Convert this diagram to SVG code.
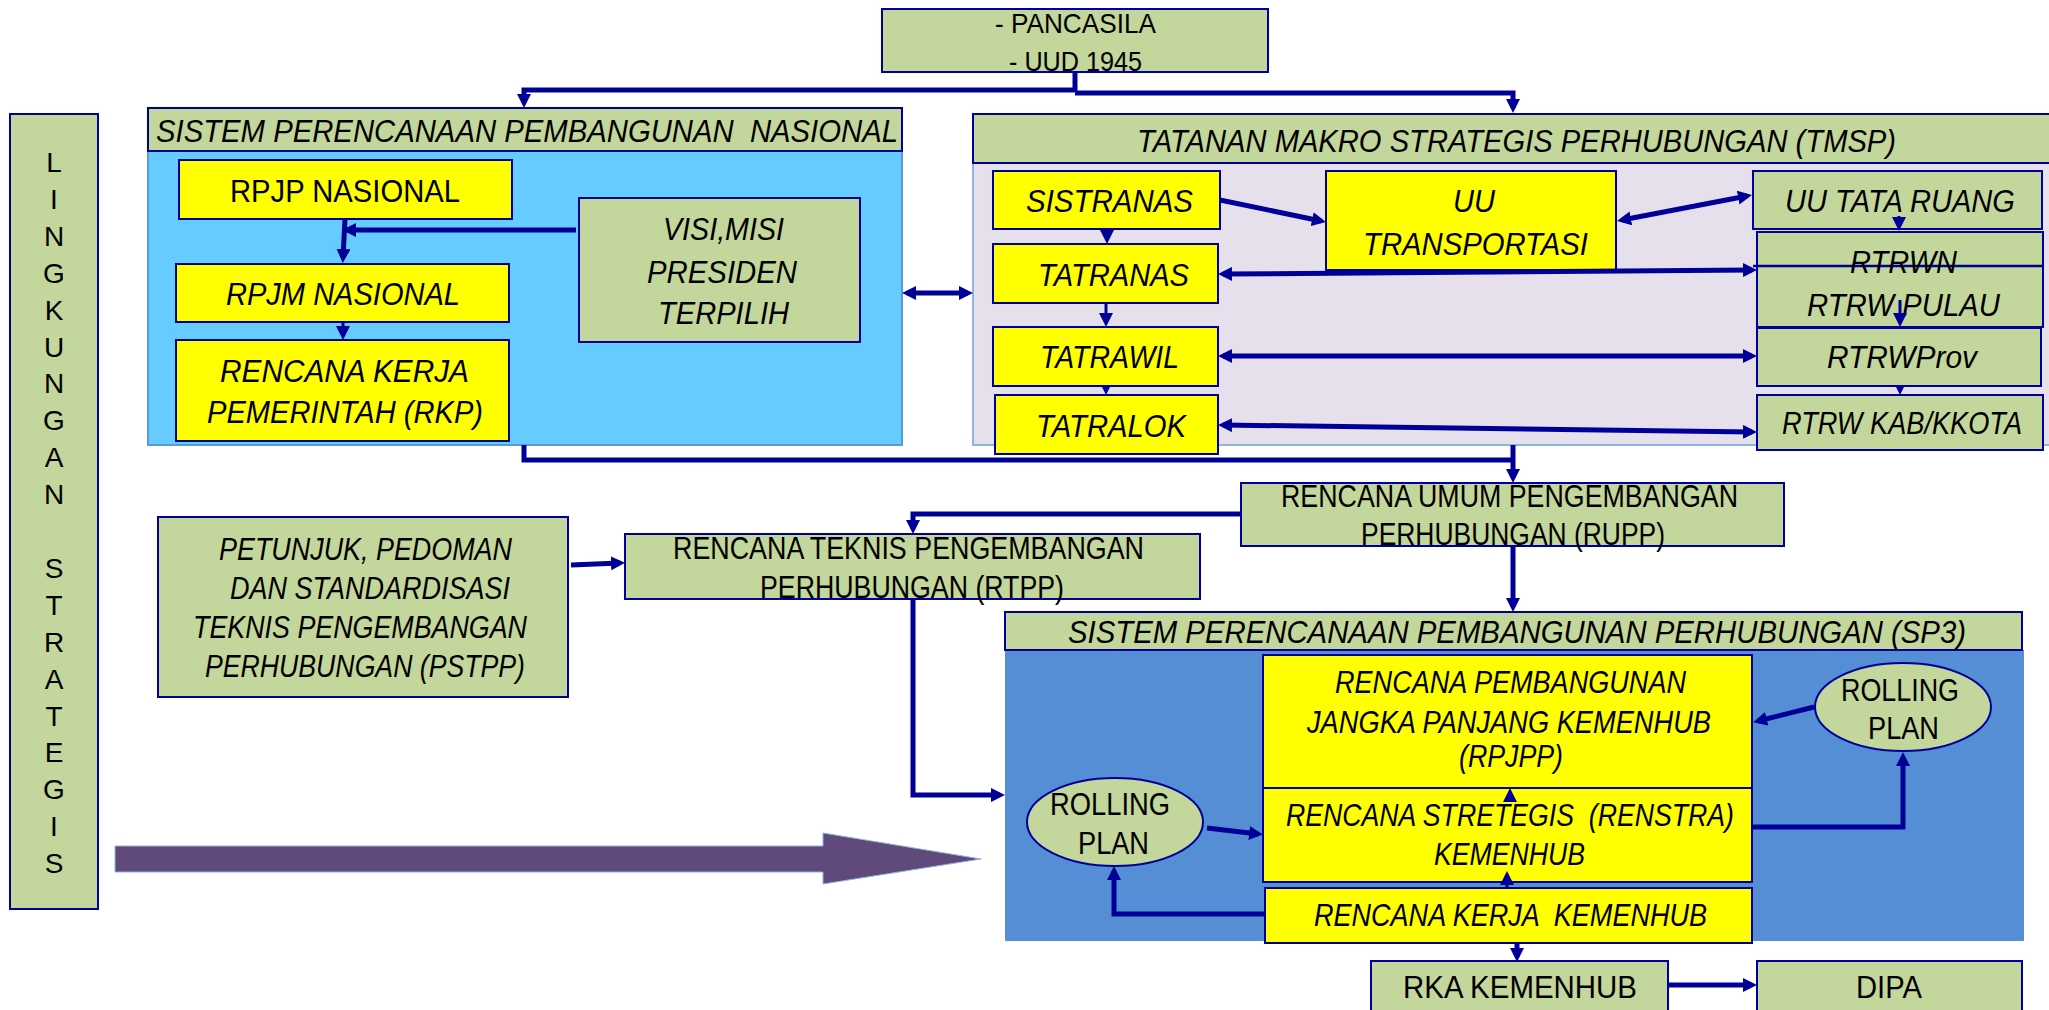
<svg xmlns="http://www.w3.org/2000/svg" width="2049" height="1010" viewBox="0 0 2049 1010">
<style>
.ol{fill:#C3D69B;stroke:#000099;stroke-width:2}
.ye{fill:#FFFF00;stroke:#000099;stroke-width:2}
.t{font-family:"Liberation Sans",Arial,sans-serif;font-size:32px;fill:#000;text-anchor:middle}
.n{font-size:32px}
.i{font-style:italic}
.c{stroke:#000099;stroke-width:5;fill:none}
.cs{stroke-width:3}
.lt{font-family:"Liberation Sans",Arial,sans-serif;font-size:28px;fill:#000;text-anchor:middle}
</style>
<defs>
<marker id="a" markerUnits="userSpaceOnUse" markerWidth="14" markerHeight="14" viewBox="0 0 14 14" refX="9" refY="7" orient="auto-start-reverse"><path d="M0,0 L14,7 L0,14 z" fill="#000099"/></marker>
<marker id="s" markerUnits="userSpaceOnUse" markerWidth="10" markerHeight="10" viewBox="0 0 10 10" refX="6" refY="5" orient="auto-start-reverse"><path d="M0,0 L10,5 L0,10 z" fill="#000099"/></marker>
</defs>
<rect width="2049" height="1010" fill="#fff"/>

<g id="lingkungan">
<rect class="ol" x="10" y="114" width="88" height="795"/>
<text class="lt"><tspan x="54" y="172">L</tspan><tspan x="54" y="209">I</tspan><tspan x="54" y="246">N</tspan><tspan x="54" y="283">G</tspan><tspan x="54" y="320">K</tspan><tspan x="54" y="357">U</tspan><tspan x="54" y="393">N</tspan><tspan x="54" y="430">G</tspan><tspan x="54" y="467">A</tspan><tspan x="54" y="504">N</tspan><tspan x="54" y="578">S</tspan><tspan x="54" y="615">T</tspan><tspan x="54" y="652">R</tspan><tspan x="54" y="689">A</tspan><tspan x="54" y="726">T</tspan><tspan x="54" y="762">E</tspan><tspan x="54" y="799">G</tspan><tspan x="54" y="836">I</tspan><tspan x="54" y="873">S</tspan></text>
</g>

<g id="pancasila">
<rect class="ol" x="882" y="9" width="386" height="63"/>
<text class="t n" style="font-size:28px" x="1075.5" y="33" textLength="161" lengthAdjust="spacingAndGlyphs">- PANCASILA</text>
<text class="t n" style="font-size:28px" x="1075.5" y="71" textLength="133" lengthAdjust="spacingAndGlyphs">- UUD 1945</text>
</g>

<g id="sppn">
<rect x="148" y="151" width="754" height="294" fill="#66CCFF" stroke="#5B9BD5" stroke-width="2"/>
<rect class="ol" x="148" y="108" width="754" height="43"/>
<text class="t i" x="527" y="142" textLength="742" lengthAdjust="spacingAndGlyphs" xml:space="preserve">SISTEM PERENCANAAN PEMBANGUNAN  NASIONAL</text>
</g>
<g id="rpjp">
<rect class="ye" x="179" y="160" width="333" height="59"/>
<text class="t n" x="345" y="202" textLength="230" lengthAdjust="spacingAndGlyphs">RPJP NASIONAL</text>
</g>
<g id="rpjm">
<rect class="ye" x="176" y="264" width="333" height="58"/>
<text class="t i" x="343" y="305" textLength="234" lengthAdjust="spacingAndGlyphs">RPJM NASIONAL</text>
</g>
<g id="rkp">
<rect class="ye" x="176" y="340" width="333" height="101"/>
<text class="t i" x="344.5" y="382" textLength="249" lengthAdjust="spacingAndGlyphs">RENCANA KERJA</text>
<text class="t i" x="345" y="423" textLength="276" lengthAdjust="spacingAndGlyphs">PEMERINTAH (RKP)</text>
</g>
<g id="visi">
<rect class="ol" x="579" y="198" width="281" height="144"/>
<text class="t i" x="723.5" y="240" textLength="121" lengthAdjust="spacingAndGlyphs">VISI,MISI</text>
<text class="t i" x="722" y="283" textLength="150" lengthAdjust="spacingAndGlyphs">PRESIDEN</text>
<text class="t i" x="723.5" y="324" textLength="131" lengthAdjust="spacingAndGlyphs">TERPILIH</text>
</g>

<g id="tmsp">
<rect x="973" y="163" width="1080" height="282" fill="#E6E0EC" stroke="#8EB4E3" stroke-width="2"/>
<rect class="ol" x="973" y="114" width="1080" height="49"/>
<text class="t i" x="1516.5" y="152" textLength="759" lengthAdjust="spacingAndGlyphs">TATANAN MAKRO STRATEGIS PERHUBUNGAN (TMSP)</text>
</g>
<g id="sistranas">
<rect class="ye" x="993" y="171" width="227" height="58"/>
<text class="t i" x="1109.5" y="212" textLength="167" lengthAdjust="spacingAndGlyphs">SISTRANAS</text>
</g>
<g id="tatranas">
<rect class="ye" x="993" y="244" width="225" height="59"/>
<text class="t i" x="1113.5" y="286" textLength="151" lengthAdjust="spacingAndGlyphs">TATRANAS</text>
</g>
<g id="tatrawil">
<rect class="ye" x="993" y="327" width="225" height="59"/>
<text class="t i" x="1109.5" y="368" textLength="139" lengthAdjust="spacingAndGlyphs">TATRAWIL</text>
</g>
<g id="tatralok">
<rect class="ye" x="995" y="395" width="223" height="59"/>
<text class="t i" x="1111" y="437" textLength="150" lengthAdjust="spacingAndGlyphs">TATRALOK</text>
</g>
<g id="uu-transportasi">
<rect class="ye" x="1326" y="171" width="290" height="99"/>
<text class="t i" x="1474" y="212" textLength="42" lengthAdjust="spacingAndGlyphs">UU</text>
<text class="t i" x="1475.5" y="255" textLength="225" lengthAdjust="spacingAndGlyphs">TRANSPORTASI</text>
</g>
<g id="uu-tata-ruang">
<rect class="ol" x="1753" y="171" width="289" height="58"/>
<text class="t i" x="1900" y="212" textLength="230" lengthAdjust="spacingAndGlyphs">UU TATA RUANG</text>
</g>
<g id="rtrwn">
<rect class="ol" x="1757" y="232" width="286" height="95"/>
<line x1="1753" y1="266" x2="2043" y2="266" stroke="#000099" stroke-width="2.5"/>
<text class="t i" x="1903.5" y="273" textLength="107" lengthAdjust="spacingAndGlyphs">RTRWN</text>
<text class="t i" x="1903.5" y="316" textLength="193" lengthAdjust="spacingAndGlyphs">RTRW PULAU</text>
</g>
<g id="rtrwprov">
<rect class="ol" x="1757" y="328" width="284" height="58"/>
<text class="t i" x="1902" y="368" textLength="150" lengthAdjust="spacingAndGlyphs">RTRWProv</text>
</g>
<g id="rtrw-kab">
<rect class="ol" x="1757" y="395" width="286" height="55"/>
<text class="t i" x="1902" y="434" textLength="240" lengthAdjust="spacingAndGlyphs">RTRW KAB/KKOTA</text>
</g>

<g id="rupp">
<rect class="ol" x="1241" y="483" width="543" height="63"/>
<text class="t n" x="1509.5" y="507" textLength="457" lengthAdjust="spacingAndGlyphs">RENCANA UMUM PENGEMBANGAN</text>
<text class="t n" x="1513" y="545" textLength="304" lengthAdjust="spacingAndGlyphs">PERHUBUNGAN (RUPP)</text>
</g>
<g id="rtpp">
<rect class="ol" x="625" y="534" width="575" height="65"/>
<text class="t n" x="908.5" y="559" textLength="471" lengthAdjust="spacingAndGlyphs">RENCANA TEKNIS PENGEMBANGAN</text>
<text class="t n" x="912" y="598" textLength="304" lengthAdjust="spacingAndGlyphs">PERHUBUNGAN (RTPP)</text>
</g>
<g id="pstpp">
<rect class="ol" x="158" y="517" width="410" height="180"/>
<text class="t i" x="365.5" y="560" textLength="293" lengthAdjust="spacingAndGlyphs">PETUNJUK, PEDOMAN</text>
<text class="t i" x="370" y="599" textLength="280" lengthAdjust="spacingAndGlyphs">DAN STANDARDISASI</text>
<text class="t i" x="360" y="638" textLength="334" lengthAdjust="spacingAndGlyphs">TEKNIS PENGEMBANGAN</text>
<text class="t i" x="365" y="677" textLength="320" lengthAdjust="spacingAndGlyphs">PERHUBUNGAN (PSTPP)</text>
</g>

<g id="big-arrow">
<polygon points="115,846 823,846 823,833 981,859 823,884 823,872 115,872" fill="#604A7B" stroke="#8EB4E3" stroke-width="1"/>
</g>

<g id="sp3">
<rect x="1005" y="650" width="1019" height="291" fill="#558ED5"/>
<rect class="ol" x="1005" y="612" width="1017" height="38"/>
<text class="t i" x="1517" y="643" textLength="898" lengthAdjust="spacingAndGlyphs">SISTEM PERENCANAAN PEMBANGUNAN PERHUBUNGAN (SP3)</text>
</g>
<g id="rpjpp">
<rect class="ye" x="1263" y="655" width="489" height="133"/>
<text class="t i" x="1510.5" y="693" textLength="351" lengthAdjust="spacingAndGlyphs">RENCANA PEMBANGUNAN</text>
<text class="t i" x="1509" y="733" textLength="404" lengthAdjust="spacingAndGlyphs">JANGKA PANJANG KEMENHUB</text>
<text class="t i" x="1511" y="767" textLength="104" lengthAdjust="spacingAndGlyphs">(RPJPP)</text>
</g>
<g id="renstra">
<rect class="ye" x="1263" y="788" width="489" height="94"/>
<text class="t i" x="1510" y="826" textLength="448" lengthAdjust="spacingAndGlyphs" xml:space="preserve">RENCANA STRETEGIS  (RENSTRA)</text>
<text class="t i" x="1509.5" y="865" textLength="151" lengthAdjust="spacingAndGlyphs">KEMENHUB</text>
</g>
<g id="rkk">
<rect class="ye" x="1265" y="888" width="487" height="55"/>
<text class="t i" x="1510.5" y="926" textLength="393" lengthAdjust="spacingAndGlyphs" xml:space="preserve">RENCANA KERJA  KEMENHUB</text>
</g>
<g id="rolling-left">
<ellipse class="ol" cx="1115" cy="822" rx="88" ry="44"/>
<text class="t n" x="1110" y="815" textLength="120" lengthAdjust="spacingAndGlyphs">ROLLING</text>
<text class="t n" x="1113.5" y="854" textLength="71" lengthAdjust="spacingAndGlyphs">PLAN</text>
</g>
<g id="rolling-right">
<ellipse class="ol" cx="1903" cy="707" rx="88" ry="44"/>
<text class="t n" x="1900" y="701" textLength="118" lengthAdjust="spacingAndGlyphs">ROLLING</text>
<text class="t n" x="1903.5" y="739" textLength="71" lengthAdjust="spacingAndGlyphs">PLAN</text>
</g>
<g id="rka">
<rect class="ol" x="1371" y="961" width="297" height="60"/>
<text class="t n" x="1520" y="998" textLength="234" lengthAdjust="spacingAndGlyphs">RKA KEMENHUB</text>
</g>
<g id="dipa">
<rect class="ol" x="1757" y="961" width="265" height="60"/>
<text class="t n" x="1889" y="998" textLength="66" lengthAdjust="spacingAndGlyphs">DIPA</text>
</g>

<g id="connectors">
<path class="c" d="M1075,72 V90 H524 V103" marker-end="url(#a)"/>
<path class="c" d="M1075,93 H1513 V108" marker-end="url(#a)"/>
<path class="c" d="M907,293 H968" marker-start="url(#a)" marker-end="url(#a)"/>
<path class="c" d="M576,230 H347" marker-end="url(#a)"/>
<path class="c" d="M345,219 L343,258" marker-end="url(#a)"/>
<path class="c cs" d="M343,322 V335" marker-end="url(#a)"/>
<path class="c" d="M1220,200 L1321,221" marker-end="url(#a)"/>
<path class="c" d="M1622,220 L1747,196" marker-start="url(#a)" marker-end="url(#a)"/>
<path class="c cs" d="M1107,229 V239" marker-end="url(#a)"/>
<path class="c cs" d="M1106,303 V322" marker-end="url(#a)"/>
<path class="c cs" d="M1106,386 V391" marker-end="url(#s)"/>
<path class="c" d="M1223,274 L1752,270" marker-start="url(#a)" marker-end="url(#a)"/>
<path class="c" d="M1223,356 H1752" marker-start="url(#a)" marker-end="url(#a)"/>
<path class="c" d="M1223,425 L1752,432" marker-start="url(#a)" marker-end="url(#a)"/>
<path class="c cs" d="M1899,216 V226" marker-end="url(#a)"/>
<path class="c cs" d="M1900,300 V322" marker-end="url(#a)"/>
<path class="c cs" d="M1900,386 V391" marker-end="url(#s)"/>
<path class="c" d="M524,445 V460 H1513"/>
<path class="c" d="M1513,445 V478" marker-end="url(#a)"/>
<path class="c" d="M1241,514 H913 V529" marker-end="url(#a)"/>
<path class="c" d="M571,565 L620,563" marker-end="url(#a)"/>
<path class="c" d="M913,599 V795 H1000" marker-end="url(#a)"/>
<path class="c" d="M1513,546 V607" marker-end="url(#a)"/>
<path class="c" d="M1814,707 L1758,721" marker-end="url(#a)"/>
<path class="c" d="M1752,827 H1903 V757" marker-end="url(#a)"/>
<path class="c" d="M1207,828 L1258,834" marker-end="url(#a)"/>
<path class="c" d="M1265,914 H1114 V871" marker-end="url(#a)"/>
<path class="c cs" d="M1510,800 V793" marker-end="url(#a)"/>
<path class="c cs" d="M1507,889 V876" marker-end="url(#a)"/>
<path class="c" d="M1517,943 V957" marker-end="url(#a)"/>
<path class="c" d="M1668,985 H1752" marker-end="url(#a)"/>
</g>
</svg>
